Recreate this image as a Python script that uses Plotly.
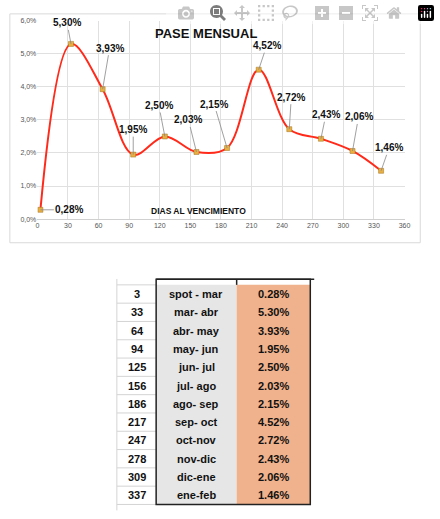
import plotly.graph_objects as go

days = [3, 33, 64, 94, 125, 156, 186, 217, 247, 278, 309, 337]
pase = [0.28, 5.30, 3.93, 1.95, 2.50, 2.03, 2.15, 4.52, 2.72, 2.43, 2.06, 1.46]
periodos = ["spot - mar", "mar- abr", "abr- may", "may- jun", "jun- jul", "jul- ago",
            "ago- sep", "sep- oct", "oct-nov", "nov-dic", "dic-ene", "ene-feb"]
y_ticks = [0, 1, 2, 3, 4, 5, 6]
x_ticks = list(range(0, 361, 30))
label_offsets = [(29, 0), (-4, -21), (7, -41), (0, -25), (-6, -31), (-8, -32),
                 (-13, -44), (8, -24), (2, -32), (5, -24), (6, -34), (8, -23)]

W, H = 440, 519
def px(x): return x / W
def py(y): return 1 - y / H

fig = go.Figure()
fig.add_trace(go.Scatter(
    x=days, y=pase, mode="lines+markers",
    line=dict(color="#ff2a1a", width=2, shape="spline", smoothing=1.0),
    marker=dict(color="#e8b040", size=5, symbol="square", line=dict(color="#a07020", width=0.5)),
    hoverinfo="skip"))

ann = []
for d, v, (ax, ay) in zip(days, pase, label_offsets):
    ann.append(dict(x=d, y=v, xref="x", yref="y", text=f"<b>{v:.2f}%</b>".replace(".", ","),
                    showarrow=True, arrowhead=0, arrowwidth=0.8, arrowcolor="#888",
                    ax=ax, ay=ay, xanchor="center", yanchor="middle",
                    font=dict(family="Liberation Sans", size=10, color="#111"), standoff=0))
ann.append(dict(x=px(208), y=py(30), xref="paper", yref="paper", text="<b>PASE MENSUAL</b>",
                showarrow=False, xanchor="center", yanchor="middle",
                font=dict(family="Liberation Sans", size=13, color="#111")))
ann.append(dict(x=px(200), y=py(210), xref="paper", yref="paper", text="<b>DIAS AL VENCIMIENTO</b>",
                showarrow=False, xanchor="center", yanchor="middle",
                font=dict(family="Liberation Sans", size=8.5, color="#111")))

shapes = [dict(type="rect", xref="paper", yref="paper", x0=px(8), x1=px(426), y0=py(242), y1=py(10),
               line=dict(color="#d9d9d9", width=1), layer="below")]

top, rh = 284.7, 18.55
c0, c1, c2, c3 = 117, 157, 239, 314
bottom = top + rh * len(days)
shapes.append(dict(type="rect", xref="paper", yref="paper", x0=px(c1), x1=px(c2), y0=py(bottom), y1=py(top),
                   fillcolor="#e6e6e6", line=dict(width=0)))
shapes.append(dict(type="rect", xref="paper", yref="paper", x0=px(c2), x1=px(c3), y0=py(bottom), y1=py(top),
                   fillcolor="#f0b28c", line=dict(width=0)))
for i in range(len(days) + 1):
    yy = top + rh * i
    shapes.append(dict(type="line", xref="paper", yref="paper", x0=px(c0), x1=px(c1), y0=py(yy), y1=py(yy),
                       line=dict(color="#d4d4d4", width=1)))
shapes.append(dict(type="line", xref="paper", yref="paper", x0=px(c0), x1=px(c0), y0=py(bottom + 6), y1=py(top - 6),
                   line=dict(color="#d4d4d4", width=1)))
shapes.append(dict(type="line", xref="paper", yref="paper", x0=px(c1), x1=px(318), y0=py(279), y1=py(279),
                   line=dict(color="#222", width=1.5)))
shapes.append(dict(type="line", xref="paper", yref="paper", x0=px(c2), x1=px(c2), y0=py(279), y1=py(top),
                   line=dict(color="#222", width=1.5)))
shapes.append(dict(type="rect", xref="paper", yref="paper", x0=px(c1), x1=px(c3), y0=py(bottom), y1=py(279),
                   line=dict(color="#222", width=1.5)))

tf = dict(family="Liberation Sans", size=11, color="#111")
for i, (d, p, v) in enumerate(zip(days, periodos, pase)):
    yc = py(top + rh * (i + 0.5))
    for xc, t in ((138, f"<b>{d}</b>"), ((c1 + c2) / 2, f"<b>{p}</b>"), ((c2 + c3) / 2, f"<b>{v:.2f}%</b>")):
        ann.append(dict(x=px(xc), y=yc, xref="paper", yref="paper", text=t, showarrow=False,
                        xanchor="center", yanchor="middle", font=tf))

fig.update_layout(
    width=W, height=H, margin=dict(l=0, r=0, t=0, b=0),
    paper_bgcolor="white", plot_bgcolor="white", showlegend=False,
    xaxis=dict(domain=[px(36), px(410)], range=[0, 360], tickvals=x_ticks, showgrid=True,
               gridcolor="#e0e0e0", zeroline=False, showline=True, linecolor="#d0d0d0",
               tickfont=dict(family="Liberation Sans", size=7, color="#555")),
    yaxis=dict(domain=[py(218), py(17)], range=[0, 6], tickvals=y_ticks,
               ticktext=[f"{t},0%" for t in y_ticks], showgrid=True, gridcolor="#e0e0e0",
               zeroline=False, tickfont=dict(family="Liberation Sans", size=7, color="#555")),
    annotations=ann, shapes=shapes)

fig.write_html("out.html", post_script="document.body.style.margin='0';")
